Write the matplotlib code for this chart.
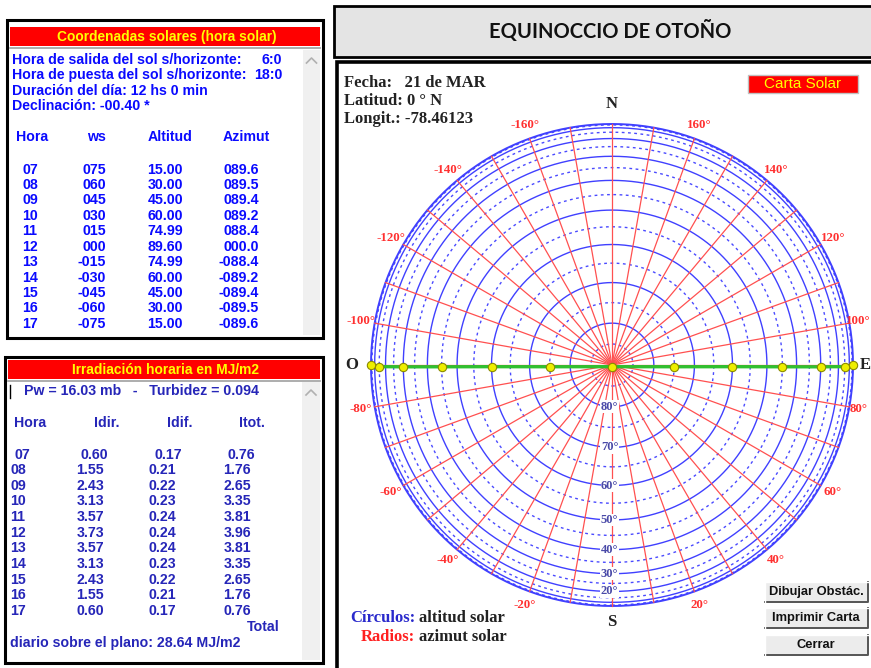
import numpy as np
import matplotlib.pyplot as plt
from matplotlib.patches import Rectangle

horas = ['07', '08', '09', '10', '11', '12', '13', '14', '15', '16', '17']
ws = ['075', '060', '045', '030', '015', '000', '-015', '-030', '-045', '-060', '-075']
altitud = [15.00, 30.00, 45.00, 60.00, 74.99, 89.60, 74.99, 60.00, 45.00, 30.00, 15.00]
azimut = [89.6, 89.5, 89.4, 89.2, 88.4, 0.0, -88.4, -89.2, -89.4, -89.5, -89.6]
idir = [0.60, 1.55, 2.43, 3.13, 3.57, 3.73, 3.57, 3.13, 2.43, 1.55, 0.60]
idif = [0.17, 0.21, 0.22, 0.23, 0.24, 0.24, 0.24, 0.23, 0.22, 0.21, 0.17]
itot = [0.76, 1.76, 2.65, 3.35, 3.81, 3.96, 3.81, 3.35, 2.65, 1.76, 0.76]

salida, puesta = '6:0', '18:0'
duracion = '12 hs 0 min'
declinacion = '-00.40'
pw, turbidez = 16.03, 0.094
total_diario = 28.64

# sunrise / sunset on the horizon
sol_alt = [0.0] + altitud + [0.0]
sol_az = [90.0] + azimut + [-90.0]

alt_solid = [0, 10, 20, 30, 40, 50, 60, 70, 80]
alt_dashed = [5, 15, 25, 35, 45, 55, 65, 75, 85]
alt_labels = [80, 70, 60, 50, 40, 30, 20]
az_lines = list(range(-170, 190, 10))
az_labels = [-160, -140, -120, -100, -80, -60, -40, -20, 20, 40, 60, 80, 100, 120, 140, 160]

W, H = 871, 668
BLUE = '#0a0aff'
NAVY = '#2626b8'
SANS = 'Liberation Sans'
SERIF = 'Liberation Serif'
FS = 10.2

fig = plt.figure(figsize=(W / 100, H / 100), dpi=100)
bg = fig.add_axes([0, 0, 1, 1])
bg.set_xlim(0, W)
bg.set_ylim(H, 0)
bg.axis('off')
bg.set_zorder(0)


def box(x0, y0, x1, y1, fc, ec='black', lw=1.8, z=1):
    bg.add_patch(Rectangle((x0, y0), x1 - x0, y1 - y0, facecolor=fc, edgecolor=ec, linewidth=lw, zorder=z))


def txt(x, y, s, color=BLUE, size=FS, ha='left', family=SANS, weight='bold', **kw):
    bg.text(x, y, s, color=color, fontsize=size, ha=ha, va='center', family=family, weight=weight, **kw)


def scroll(x0, y0, x1, y1):
    box(x0, y0, x1, y1, '#f0f0f0', ec='none', lw=0, z=2)
    cx, cy = (x0 + x1) / 2, y0 + 10
    bg.plot([cx - 5, cx, cx + 5], [cy + 3, cy - 2, cy + 3], color='#b0b0b0', lw=1.2, zorder=3)


# ---- panel 1: solar coordinates ----
box(7, 20, 323, 338, 'white', lw=2.2)
box(10, 27, 320, 46, '#ff0000', ec='none', lw=0, z=2)
bg.plot([10, 320], [48, 48], color='#a0a0a0', lw=1.2, zorder=2)
txt(167, 37, 'Coordenadas solares (hora solar)', color='#ffff00', size=9.9, ha='center')
scroll(303, 50, 320, 335)
txt(12, 60, 'Hora de salida del sol s/horizonte:')
txt(282, 60, salida, ha='right')
txt(12, 75, 'Hora de puesta del sol s/horizonte:')
txt(282, 75, puesta, ha='right')
txt(12, 91, 'Duración del día: ' + duracion)
txt(12, 106, 'Declinación: ' + declinacion + ' *')
txt(16, 137, 'Hora')
txt(96, 137, 'ws', ha='center')
txt(170, 137, 'Altitud', ha='center')
txt(246, 137, 'Azimut', ha='center')
for i, h in enumerate(horas):
    y = 169.5 + i * 15.44
    txt(22, y, h)
    txt(106, y, ws[i], ha='right')
    txt(183, y, '%05.2f' % altitud[i], ha='right')
    txt(259, y, ('%05.1f' % azimut[i]) if azimut[i] >= 0 else '-%05.1f' % -azimut[i], ha='right')

# ---- panel 2: hourly irradiation ----
box(5, 357, 323, 663, 'white', lw=2.2)
box(8, 360, 320, 379, '#ff0000', ec='none', lw=0, z=2)
bg.plot([8, 320], [381, 381], color='#a0a0a0', lw=1.2, zorder=2)
txt(165, 369.5, 'Irradiación horaria en MJ/m2', color='#ffff00', size=9.9, ha='center')
scroll(302, 382, 320, 660)
bg.plot([10, 10], [385, 398], color='black', lw=1, zorder=3)
txt(24, 391, 'Pw = %.2f mb   -   Turbidez = %.3f' % (pw, turbidez), color=NAVY)
txt(14, 423, 'Hora', color=NAVY)
txt(107, 423, 'Idir.', color=NAVY, ha='center')
txt(180, 423, 'Idif.', color=NAVY, ha='center')
txt(252, 423, 'Itot.', color=NAVY, ha='center')
for i, h in enumerate(horas):
    y = 455 if i == 0 else 470 + (i - 1) * 15.67
    dx = 4 if i == 0 else 0
    txt(10 + dx, y, h, color=NAVY)
    txt(104 + dx, y, '%.2f' % idir[i], color=NAVY, ha='right')
    txt(176 + 6 * (i == 0), y, '%.2f' % idif[i], color=NAVY, ha='right')
    txt(251 + dx, y, '%.2f' % itot[i], color=NAVY, ha='right')
txt(280, 627, 'Total', color=NAVY, ha='right')
txt(10, 643, 'diario sobre el plano: %.2f MJ/m2' % total_diario, color=NAVY)

# ---- title and chart panel ----
box(334, 6, 880, 57, '#e4e4e4', lw=2)
txt(610, 31, 'EQUINOCCIO DE OTOÑO', color='#111111', size=14.5, ha='center', family='Lato')
box(337, 62, 880, 680, 'white', lw=2.6)
box(748, 75, 858, 93, '#ff0000', ec='#c0c0c0', lw=1, z=2)
txt(803, 84.5, 'Carta Solar', color='#ffff00', size=11, ha='center', weight='normal')
txt(344, 83, 'Fecha:   21 de MAR', color='#222222', size=12, family=SERIF)
txt(344, 101, 'Latitud: 0 ° N', color='#222222', size=12, family=SERIF)
txt(344, 119, 'Longit.: -78.46123', color='#222222', size=12, family=SERIF)
txt(415, 618, 'Círculos:', color='#2a2acc', size=12, ha='right', family=SERIF)
txt(419, 618, 'altitud solar', color='#222222', size=12, family=SERIF)
txt(415, 637, 'Radios:', color='#ff2020', size=12, ha='right', family=SERIF)
txt(419, 637, 'azimut solar', color='#222222', size=12, family=SERIF)

for label, y0 in [('Dibujar Obstác.', 582), ('Imprimir Carta', 608), ('Cerrar', 635)]:
    box(765, y0, 868, y0 + 20, '#ececec', ec='none', lw=0, z=2)
    bg.plot([765, 868, 868], [y0 + 20, y0 + 20, y0], color='#555555', lw=1.4, zorder=3)
    bg.plot([765, 765, 868], [y0 + 20, y0, y0], color='white', lw=1, zorder=3)
    txt(816, y0 + 10, label, color='#111111', size=9.3, ha='center')

# ---- sun chart (orthographic projection) ----
cx, cy, R, half = 612, 365, 241, 275
ax = fig.add_axes([(cx - half) / W, (H - cy - half) / H, 2 * half / W, 2 * half / H])
ax.set_zorder(1)
ax.patch.set_alpha(0)
ax.set_xlim(-half / R, half / R)
ax.set_ylim(-half / R, half / R)
ax.axis('off')


def proj(alt, az):
    alt = np.radians(np.asarray(alt, dtype=float))
    az = np.radians(np.asarray(az, dtype=float))
    return np.cos(alt) * np.sin(az), -np.cos(alt) * np.cos(az)


ring = np.linspace(0, 360, 361)
for a in alt_dashed:
    x, y = proj(np.full_like(ring, a), ring)
    ax.plot(x, y, color='#4a4aff', lw=1.0, ls=(0, (2, 2.5)), zorder=2)
for a in alt_solid:
    x, y = proj(np.full_like(ring, a), ring)
    ax.plot(x, y, color='#4040ff', lw=1.4 if a == 0 else 1.0, zorder=2)
for az in az_lines:
    x, y = proj([90, 0], [az, az])
    ax.plot(x, y, color='#ff5050', lw=0.9, zorder=3)

for az in az_labels:
    x, y = proj(0, az)
    edge = az in (80, 100)
    ax.text(1.058 * x - (0.02 if edge else 0), 1.058 * y, '%d°' % az, color='#ff3030',
            fontsize=9.3, family=SERIF, weight='bold', ha='center', va='center', zorder=5)
for a in alt_labels:
    x, y = proj(a, 0)
    ax.text(x - 0.01, y, '%d°' % a, color='#4a4aa8', fontsize=9, family=SERIF, weight='bold',
            ha='center', va='center', zorder=5,
            bbox=dict(facecolor='white', edgecolor='none', pad=0.3))

sx, sy = proj(sol_alt, sol_az)
ax.plot(sx, sy, color='#30c030', lw=2.4, zorder=6)
ax.plot(sx, sy, 'o', ms=6, mfc='#eeee00', mec='#8a8a00', mew=0.8, zorder=7)

for s, x, y, ha in [('N', 0, 1.083, 'center'), ('S', 0, -1.066, 'center'),
                    ('O', -1.079, 0, 'center'), ('E', 1.075, 0, 'right')]:
    ax.text(x, y, s, color='#222222', fontsize=12, family=SERIF, weight='bold',
            ha=ha, va='center', zorder=5)

fig.savefig('out.png', dpi=100)
